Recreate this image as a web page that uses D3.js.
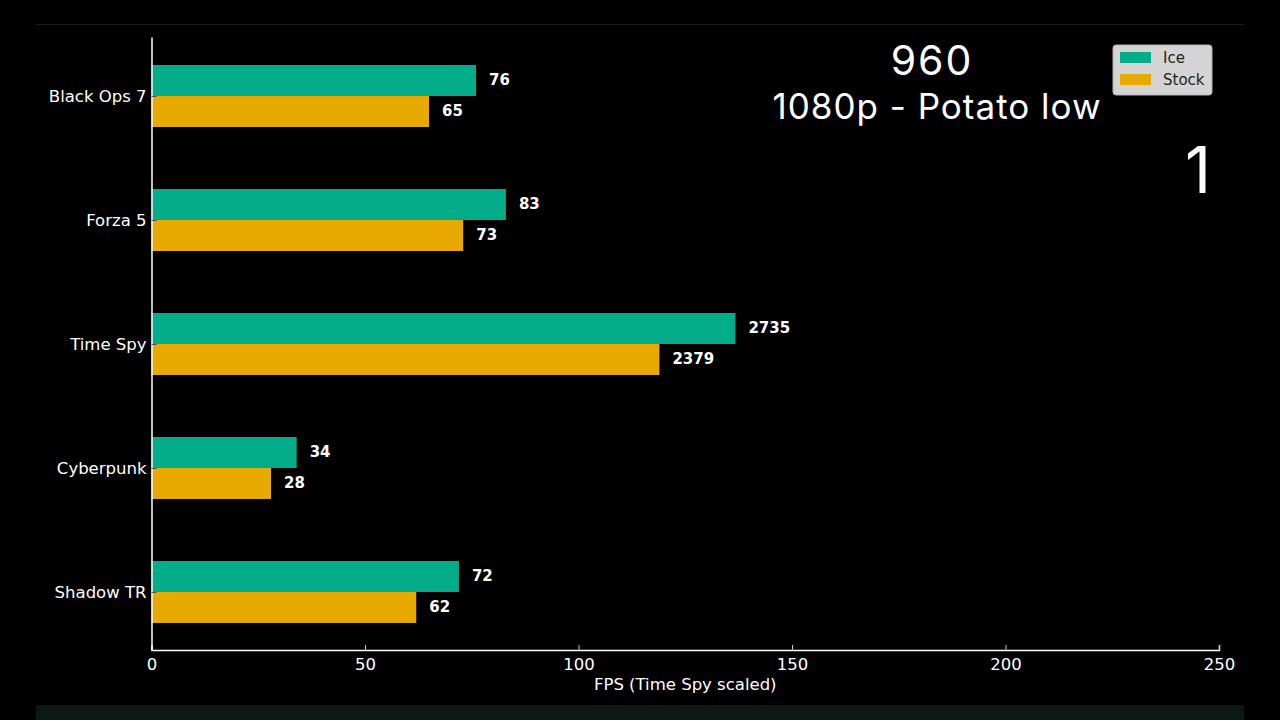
<!DOCTYPE html>
<html>
<head>
<meta charset="utf-8">
<script src="https://cdn.jsdelivr.net/npm/d3@7"></script>
<style>
  body { margin: 0; background: #000; }
  svg { display: block; }
</style>
</head>
<body>
<svg id="svg1"></svg>
<script>
    // Data
    const games = ["Black Ops 7", "Forza 5", "Time Spy", "Cyberpunk", "Shadow TR"];
    const iceFps = [76, 83, 2735, 34, 72];
    const stockFps = [65, 73, 2379, 28, 62];
    const scaleDiv = [1, 1, 20, 1, 1];   // Time Spy score divided by 20 to fit FPS axis
    const xTicks = [0, 50, 100, 150, 200, 250];
    const seriesNames = ["Ice", "Stock"];
    const colors = ["#03ad89", "#e8aa00"];

    const W = 1280, H = 720;
    const svg = d3.select("#svg1").attr("width", W).attr("height", H);

    svg.append("rect").attr("width", W).attr("height", H).attr("fill", "#000");

    // Frame bits from the video
    svg.append("line")
      .attr("x1", 36).attr("x2", 1244).attr("y1", 24.5).attr("y2", 24.5)
      .attr("stroke", "#15201c").attr("stroke-width", 1);
    svg.append("rect")
      .attr("x", 36).attr("y", 705).attr("width", 1208).attr("height", 15)
      .attr("fill", "#0c1914");

    // Scales
    const x = d3.scaleLinear().domain([0, 250]).range([151.5, 1219]);
    const y = d3.scaleLinear().domain([-0.476, 4.468]).range([37, 650]);
    const barH = y(0.25) - y(0);

    const font = "DejaVu Sans, sans-serif";

    // Bars
    const rows = games.map((g, i) => ({
      game: g, i,
      vals: [iceFps[i], stockFps[i]],
      div: scaleDiv[i]
    }));

    rows.forEach(r => {
      r.vals.forEach((v, s) => {
        const top = s === 0 ? y(r.i - 0.25) : y(r.i);
        svg.append("rect")
          .attr("x", x(0))
          .attr("y", top)
          .attr("width", x(v / r.div) - x(0))
          .attr("height", barH)
          .attr("fill", colors[s]);
        svg.append("text")
          .attr("x", x(v / r.div) + 13)
          .attr("y", top + barH / 2)
          .attr("dy", "0.33em")
          .attr("fill", "#fff")
          .attr("font-family", font)
          .attr("font-weight", "bold")
          .attr("font-size", 15)
          .text(v);
      });
    });

    // X axis
    const xAxis = svg.append("g")
      .attr("transform", "translate(0,650)")
      .call(d3.axisBottom(x).tickValues(xTicks).tickSize(-5).tickPadding(7));
    xAxis.select(".domain").attr("stroke", "#fff").attr("stroke-width", 1.5);
    xAxis.selectAll(".tick line").attr("stroke", "#ccc");
    xAxis.selectAll("text")
      .attr("fill", "#fff").attr("font-family", font).attr("font-size", 16.5)
      .attr("dy", "0.8em");

    // Y axis
    const yAxis = svg.append("g")
      .attr("transform", "translate(151.5,0)")
      .call(d3.axisLeft(y).tickValues(d3.range(games.length))
        .tickFormat(i => games[i]).tickSizeInner(-5).tickSizeOuter(0).tickPadding(5));
    yAxis.select(".domain").attr("stroke", "#fff").attr("stroke-width", 1.5);
    yAxis.selectAll(".tick line").attr("stroke", "#555");
    yAxis.selectAll("text")
      .attr("fill", "#fff").attr("font-family", font).attr("font-size", 16.5);

    svg.append("text")
      .attr("x", x(125)).attr("y", 690)
      .attr("text-anchor", "middle")
      .attr("fill", "#fff").attr("font-family", font).attr("font-size", 16.5)
      .text("FPS (Time Spy scaled)");

    // Titles
    svg.append("text")
      .attr("x", 932).attr("y", 75)
      .attr("text-anchor", "middle")
      .attr("fill", "#fff").attr("font-family", "Inter, sans-serif")
      .attr("font-size", 41).attr("letter-spacing", 2)
      .text("960");
    svg.append("text")
      .attr("x", 937).attr("y", 119)
      .attr("text-anchor", "middle")
      .attr("fill", "#fff").attr("font-family", "Inter, sans-serif")
      .attr("font-size", 35).attr("letter-spacing", 1)
      .text("1080p - Potato low");

    svg.append("text")
      .attr("x", 1198).attr("y", 193)
      .attr("text-anchor", "middle")
      .attr("fill", "#fff").attr("font-family", "Inter, sans-serif").attr("font-size", 64)
      .text("1");

    // Legend
    const lg = svg.append("g").attr("transform", "translate(1113,45)");
    lg.append("rect")
      .attr("width", 99).attr("height", 50).attr("rx", 3)
      .attr("fill", "#d4d4d4").attr("stroke", "#b0b0b0");
    seriesNames.forEach((n, s) => {
      lg.append("rect")
        .attr("x", 7).attr("y", 7 + s * 22).attr("width", 31).attr("height", 11)
        .attr("fill", colors[s]);
      lg.append("text")
        .attr("x", 50).attr("y", 13 + s * 22).attr("dy", "0.35em")
        .attr("fill", "#222").attr("font-family", font).attr("font-size", 15)
        .text(n);
    });
</script>
</body>
</html>
